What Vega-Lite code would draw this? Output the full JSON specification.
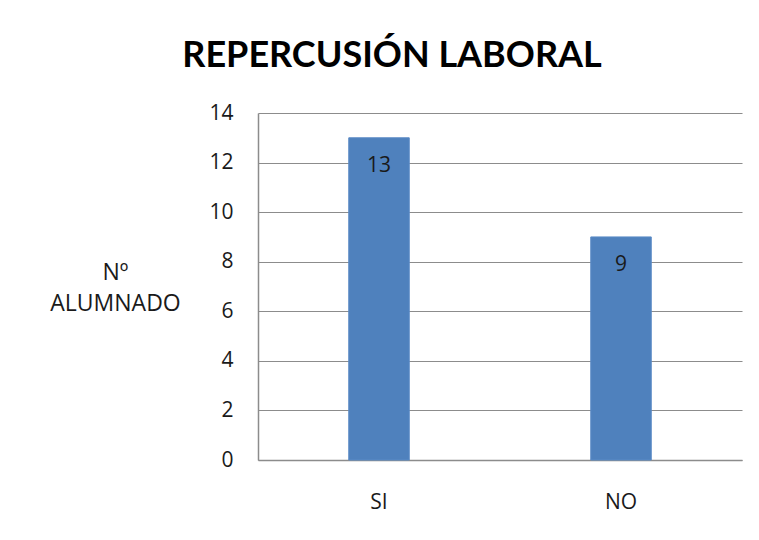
{
  "$schema": "https://vega.github.io/schema/vega-lite/v6.json",
  "autosize": "none",
  "padding": {"left": 258, "top": 113, "right": 17, "bottom": 80},
  "width": 484,
  "height": 347,
  "background": "white",
  "title": {
    "text": "REPERCUSIÓN LABORAL",
    "font": "Lato",
    "fontWeight": "bold",
    "fontSize": 36,
    "color": "#000000",
    "anchor": "middle",
    "dx": -108,
    "offset": 27
  },
  "data": {
    "values": [
      {"respuesta": "SI", "alumnos": 13},
      {"respuesta": "NO", "alumnos": 9}
    ]
  },
  "encoding": {
    "x": {
      "field": "respuesta",
      "type": "nominal",
      "sort": null,
      "scale": {"paddingInner": 0, "paddingOuter": 0},
      "axis": {
        "title": null,
        "labelAngle": 0,
        "labelFont": "Open Sans",
        "labelFontSize": 21,
        "labelColor": "#1a1a1a",
        "labelPadding": 31,
        "ticks": false,
        "domainColor": "#8c8c8c",
        "domainWidth": 1.5
      }
    },
    "y": {
      "field": "alumnos",
      "type": "quantitative",
      "scale": {"domain": [0, 14], "nice": false},
      "axis": {
        "values": [0, 2, 4, 6, 8, 10, 12, 14],
        "title": ["Nº", "ALUMNADO"],
        "titleAngle": 0,
        "titleAlign": "center",
        "titleBaseline": "middle",
        "titleX": -143,
        "titleY": 159,
        "titleFont": "Open Sans",
        "titleFontSize": 23,
        "titleFontWeight": "normal",
        "titleColor": "#1a1a1a",
        "titleLineHeight": 31,
        "labelFont": "Open Sans",
        "labelFontSize": 21,
        "labelColor": "#1a1a1a",
        "labelPadding": 25,
        "ticks": false,
        "grid": true,
        "gridColor": "#8c8c8c",
        "gridWidth": 1.2,
        "domainColor": "#8c8c8c",
        "domainWidth": 1.5
      }
    }
  },
  "layer": [
    {
      "mark": {"type": "bar", "width": {"band": 0.25}, "color": "#4F81BD", "stroke": "#5B8BC6", "strokeWidth": 1}
    },
    {
      "mark": {"type": "text", "baseline": "middle", "dy": 28, "font": "Open Sans", "fontSize": 21, "color": "#1a1a1a"},
      "encoding": {"text": {"field": "alumnos", "type": "quantitative"}}
    }
  ],
  "config": {
    "view": {"stroke": null}
  }
}
